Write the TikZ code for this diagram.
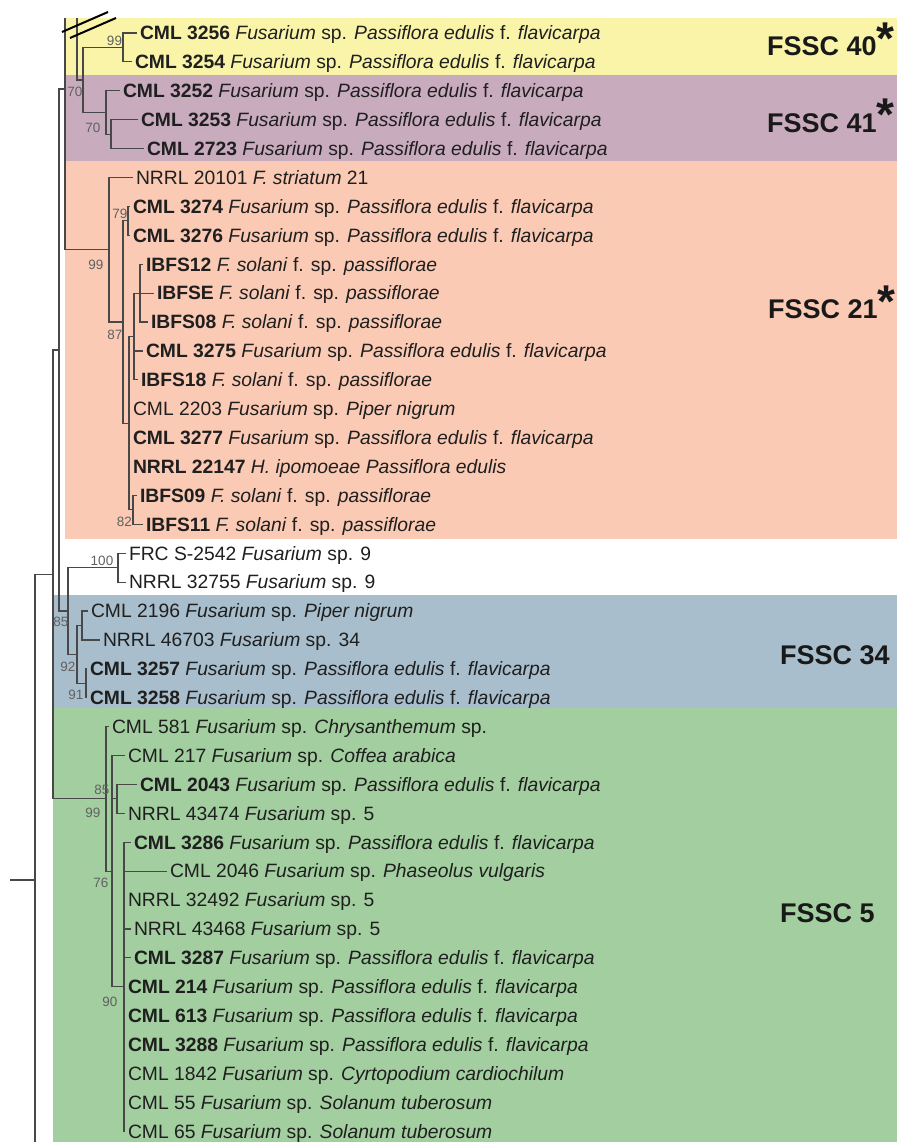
\documentclass[tikz,border=0pt]{standalone}
\usepackage{fontspec}
\setmainfont{Liberation Sans}
\definecolor{cyel}{RGB}{250,244,169}
\definecolor{cpur}{RGB}{201,171,190}
\definecolor{csal}{RGB}{250,202,180}
\definecolor{cblu}{RGB}{168,190,204}
\definecolor{cgre}{RGB}{163,206,160}
\definecolor{cline}{RGB}{72,72,72}
\newcommand\PEF{\textit{Fusarium} sp. \textit{Passiflora edulis} f. \textit{flavicarpa}}
\newcommand\FSP{\textit{F. solani} f. sp. \textit{passiflorae}}
\newcommand\BigAst{\raisebox{1.5pt}[0pt][0pt]{\fontsize{46}{46}\selectfont *}}
\begin{document}
\begin{tikzpicture}[x=1pt,y=-1pt,
  br/.style={draw=cline, line width=1.2pt},
  leaf/.style={anchor=west, inner xsep=0pt, inner ysep=0pt, outer xsep=3pt, text height=13.6pt, text depth=0pt, font=\fontsize{19.3}{20}\selectfont, text=black!88},
  bs/.style={font=\fontsize{13.5}{14}\selectfont, text=black!62, inner sep=0pt},
  clade/.style={anchor=west, inner sep=0pt, text height=19.5pt, text depth=0pt, font=\bfseries\fontsize{27}{28}\selectfont, text=black!90},
  slash/.style={draw=black, line width=2pt}]
\useasboundingbox (0,0) rectangle (897,1142);
% background bands
\fill[cyel] (65,18) rectangle (897,75);
\fill[cpur] (65,75) rectangle (897,161);
\fill[csal] (65,161) rectangle (897,539);
\fill[cblu] (53,595) rectangle (897,708);
\fill[cgre] (53,708) rectangle (897,1142);
% leaves
\node[leaf] (l1) at (137,33) {\textbf{CML 3256} \PEF};
\node[leaf] (l2) at (132,61.9) {\textbf{CML 3254} \PEF};
\node[leaf] (l3) at (120,90.8) {\textbf{CML 3252} \PEF};
\node[leaf] (l4) at (138,119.7) {\textbf{CML 3253} \PEF};
\node[leaf] (l5) at (144,148.6) {\textbf{CML 2723} \PEF};
\node[leaf] (l6) at (133,177.5) {NRRL 20101 \textit{F. striatum} 21};
\node[leaf] (l7) at (130,206.4) {\textbf{CML 3274} \PEF};
\node[leaf] (l8) at (130,235.3) {\textbf{CML 3276} \PEF};
\node[leaf] (l9) at (143,264.2) {\textbf{IBFS12} \FSP};
\node[leaf] (l10) at (154,293.1) {\textbf{IBFSE} \FSP};
\node[leaf] (l11) at (148,322) {\textbf{IBFS08} \FSP};
\node[leaf] (l12) at (143,350.9) {\textbf{CML 3275} \PEF};
\node[leaf] (l13) at (138,379.8) {\textbf{IBFS18} \FSP};
\node[leaf] (l14) at (130,408.7) {CML 2203 \textit{Fusarium} sp. \textit{Piper nigrum}};
\node[leaf] (l15) at (130,437.6) {\textbf{CML 3277} \PEF};
\node[leaf] (l16) at (130,466.5) {\textbf{NRRL 22147} \textit{H. ipomoeae Passiflora edulis}};
\node[leaf] (l17) at (137,495.4) {\textbf{IBFS09} \FSP};
\node[leaf] (l18) at (143,524.3) {\textbf{IBFS11} \FSP};
\node[leaf] (l19) at (126,553.2) {FRC S-2542 \textit{Fusarium} sp. 9};
\node[leaf] (l20) at (126,582.1) {NRRL 32755 \textit{Fusarium} sp. 9};
\node[leaf] (l21) at (88,611) {CML 2196 \textit{Fusarium} sp. \textit{Piper nigrum}};
\node[leaf] (l22) at (100,639.9) {NRRL 46703 \textit{Fusarium} sp. 34};
\node[leaf] (l23) at (87,668.8) {\textbf{CML 3257} \PEF};
\node[leaf] (l24) at (87,697.7) {\textbf{CML 3258} \PEF};
\node[leaf] (l25) at (109,726.6) {CML 581 \textit{Fusarium} sp. \textit{Chrysanthemum} sp.};
\node[leaf] (l26) at (125,755.5) {CML 217 \textit{Fusarium} sp. \textit{Coffea arabica}};
\node[leaf] (l27) at (137,784.4) {\textbf{CML 2043} \PEF};
\node[leaf] (l28) at (125,813.3) {NRRL 43474 \textit{Fusarium} sp. 5};
\node[leaf] (l29) at (131,842.2) {\textbf{CML 3286} \PEF};
\node[leaf] (l30) at (167,871.1) {CML 2046 \textit{Fusarium} sp. \textit{Phaseolus vulgaris}};
\node[leaf] (l31) at (125,900) {NRRL 32492 \textit{Fusarium} sp. 5};
\node[leaf] (l32) at (131,928.9) {NRRL 43468 \textit{Fusarium} sp. 5};
\node[leaf] (l33) at (131,957.8) {\textbf{CML 3287} \PEF};
\node[leaf] (l34) at (125,986.7) {\textbf{CML 214} \PEF};
\node[leaf] (l35) at (125,1015.6) {\textbf{CML 613} \PEF};
\node[leaf] (l36) at (125,1044.5) {\textbf{CML 3288} \PEF};
\node[leaf] (l37) at (125,1073.4) {CML 1842 \textit{Fusarium} sp. \textit{Cyrtopodium cardiochilum}};
\node[leaf] (l38) at (125,1102.3) {CML 55 \textit{Fusarium} sp. \textit{Solanum tuberosum}};
\node[leaf] (l39) at (125,1131.2) {CML 65 \textit{Fusarium} sp. \textit{Solanum tuberosum}};
% internal nodes
\coordinate (n99a) at (123,47.45);
\coordinate (nG) at (111,134.15);
\coordinate (nF) at (106,112.5);
\coordinate (nH) at (83,80);
\coordinate (topI) at (77,18);
\coordinate (n79) at (128,220.85);
\coordinate (nE) at (140,293.1);
\coordinate (nD) at (134,336.45);
\coordinate (n82) at (133,509.85);
\coordinate (nC) at (129,423.15);
\coordinate (nB) at (123,322);
\coordinate (nA) at (109,249.75);
\coordinate (topJ) at (65,18);
\coordinate (nJ) at (65,89);
\coordinate (n100) at (118,567.65);
\coordinate (nM) at (82,625.45);
\coordinate (nN) at (86,683.25);
\coordinate (nL) at (77,654.35);
\coordinate (nK) at (68,611);
\coordinate (nO) at (59,350);
\coordinate (n85) at (117,798.85);
\coordinate (n90) at (124,986.7);
\coordinate (nR) at (112,871.1);
\coordinate (nQ) at (106,798.85);
\coordinate (nP) at (53,574.4);
\coordinate (root) at (35,880);
\coordinate (rootbot) at (35,1142);
\coordinate (stem) at (10,880);
% branches
\draw[br] (n99a) |- (l1.west); \draw[br] (n99a) |- (l2.west);
\draw[br] (nG) |- (l4.west); \draw[br] (nG) |- (l5.west);
\draw[br] (nF) |- (l3.west); \draw[br] (nF) |- (nG);
\draw[br] (nH) |- (n99a); \draw[br] (nH) |- (nF);
\draw[br] (topI) |- (nH);
\draw[br] (n79) |- (l7.west); \draw[br] (n79) |- (l8.west);
\draw[br] (nE) |- (l9.west); \draw[br] (nE) |- (l10.west); \draw[br] (nE) |- (l11.west);
\draw[br] (nD) |- (nE); \draw[br] (nD) |- (l12.west); \draw[br] (nD) |- (l13.west);
\draw[br] (n82) |- (l17.west); \draw[br] (n82) |- (l18.west);
\draw[br] (nC) |- (nD); \draw[br] (nC) |- (l14.west); \draw[br] (nC) |- (l15.west); \draw[br] (nC) |- (l16.west); \draw[br] (nC) |- (n82);
\draw[br] (nB) |- (n79); \draw[br] (nB) |- (nC);
\draw[br] (nA) |- (l6.west); \draw[br] (nA) |- (nB);
\draw[br] (topJ) |- (nA);
\draw[br] (n100) |- (l19.west); \draw[br] (n100) |- (l20.west);
\draw[br] (nM) |- (l21.west); \draw[br] (nM) |- (l22.west);
\draw[br] (nN) |- (l23.west); \draw[br] (nN) |- (l24.west);
\draw[br] (nL) |- (nM); \draw[br] (nL) |- (nN);
\draw[br] (nK) |- (n100); \draw[br] (nK) |- (nL);
\draw[br] (nO) |- (nJ); \draw[br] (nO) |- (nK);
\draw[br] (n85) |- (l27.west); \draw[br] (n85) |- (l28.west);
\foreach \i in {29,...,39} {\draw[br] (n90) |- (l\i.west);}
\draw[br] (nR) |- (l26.west); \draw[br] (nR) |- (n85); \draw[br] (nR) |- (n90);
\draw[br] (nQ) |- (l25.west); \draw[br] (nQ) |- (nR);
\draw[br] (nP) |- (nO); \draw[br] (nP) |- (nQ);
\draw[br] (rootbot) |- (nP);
\draw[br] (stem) -- (root);
% break marks
\draw[slash] (62,32) -- (108,12);
\draw[slash] (70,38) -- (116,18);
% bootstrap values
\node[bs] (b1) at (114.5,41) {99};
\node[bs] (b2) at (75,92) {70};
\node[bs] (b3) at (93,128) {70};
\node[bs] (b4) at (120,214) {79};
\node[bs] (b5) at (96,265) {99};
\node[bs] (b6) at (115,335) {87};
\node[bs] (b7) at (124.5,522) {82};
\node[bs] (b8) at (102,561) {100};
\node[bs] (b9) at (61,622) {85};
\node[bs] (b10) at (68,667) {92};
\node[bs] (b11) at (76,695) {91};
\node[bs] (b12) at (102,790) {85};
\node[bs] (b13) at (93,813) {99};
\node[bs] (b14) at (101,883) {76};
\node[bs] (b15) at (110,1002) {90};
% clade labels
\node[clade] (c40) at (767,46) {FSSC 40\BigAst};
\node[clade] (c41) at (767,122.5) {FSSC 41\BigAst};
\node[clade] (c21) at (768,309) {FSSC 21\BigAst};
\node[clade] (c34) at (780,655) {FSSC 34};
\node[clade] (c5) at (780,913) {FSSC 5};
\end{tikzpicture}
\end{document}
